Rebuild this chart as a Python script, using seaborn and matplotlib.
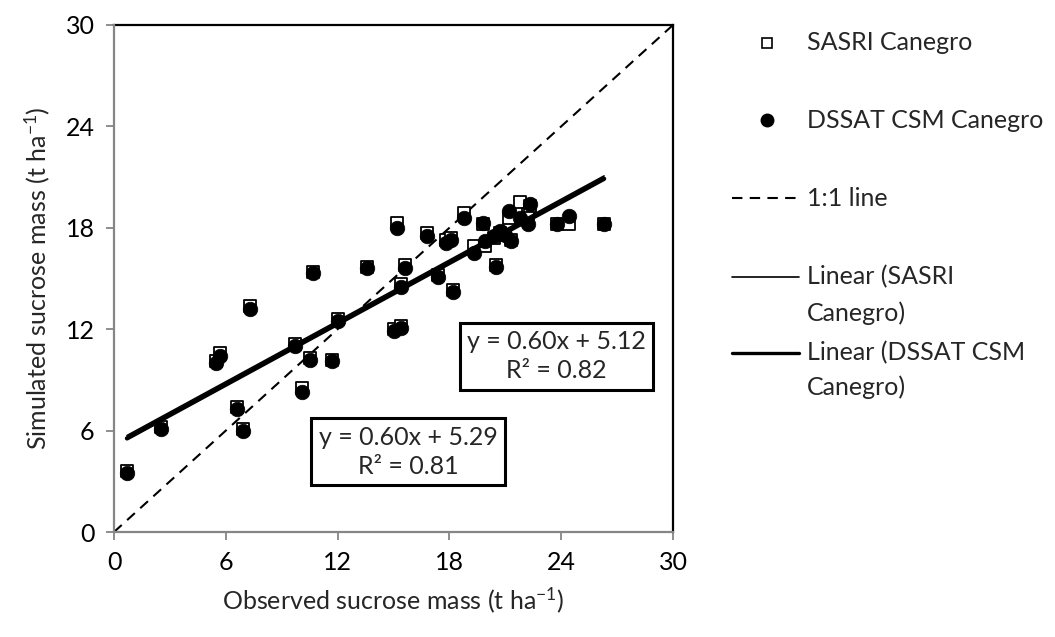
import numpy as np
import pandas as pd
import seaborn as sns
import matplotlib.pyplot as plt
from matplotlib.lines import Line2D

# Observed vs simulated sucrose mass (t/ha)
observed = [0.7, 2.5, 5.5, 5.7, 6.6, 6.9, 7.3, 9.7, 10.1, 10.5, 10.7, 11.7, 12.0,
            13.6, 15.0, 15.2, 15.4, 15.4, 15.6, 16.8, 17.4, 17.8, 18.1, 18.2, 18.8,
            19.3, 19.8, 19.9, 20.4, 20.5, 20.7, 21.0, 21.2, 21.3, 21.8, 22.2, 22.3,
            23.8, 24.4, 26.3]
sasri = [3.6, 6.2, 10.1, 10.6, 7.4, 6.1, 13.4, 11.1, 8.5, 10.3, 15.4, 10.2, 12.6,
         15.7, 12.0, 18.3, 14.7, 12.2, 15.8, 17.7, 15.2, 17.3, 17.4, 14.3, 18.9,
         16.9, 18.2, 16.9, 17.4, 15.8, 17.7, 17.6, 18.6, 17.3, 19.5, 18.8, 19.3,
         18.2, 18.2, 18.2]
dssat = [3.5, 6.1, 10.0, 10.4, 7.3, 6.0, 13.2, 11.0, 8.3, 10.2, 15.3, 10.1, 12.5,
         15.6, 11.9, 18.0, 14.5, 12.1, 15.6, 17.5, 15.1, 17.1, 17.3, 14.2, 18.6,
         16.5, 18.3, 17.2, 17.5, 15.7, 17.8, 17.6, 19.0, 17.2, 18.6, 18.2, 19.4,
         18.2, 18.7, 18.2]

# Linear trend fits
sasri_fit = {"slope": 0.60, "intercept": 5.29, "r2": 0.81}
dssat_fit = {"slope": 0.60, "intercept": 5.12, "r2": 0.82}

ticks = [0, 6, 12, 18, 24, 30]
series_labels = ["SASRI Canegro", "DSSAT CSM Canegro", "1:1 line",
                 "Linear (SASRI", "Canegro)", "Linear (DSSAT CSM", "Canegro)"]

FS = 18

sns.set_theme(style="white")
plt.rcParams["font.family"] = ["Lato", "DejaVu Sans"]
plt.rcParams["mathtext.fontset"] = "custom"
plt.rcParams["mathtext.rm"] = "Lato"
plt.rcParams["mathtext.it"] = "Lato"
plt.rcParams["mathtext.default"] = "regular"

W, H = 1055, 637
fig = plt.figure(figsize=(W / 100, H / 100), dpi=100)
ax = fig.add_axes([114 / W, 105 / H, 559 / W, 507 / H])

df = pd.DataFrame({"observed": observed, "sasri": sasri, "dssat": dssat})

sns.scatterplot(data=df, x="observed", y="sasri", marker="s", s=78,
                facecolor="white", edgecolor="black", linewidth=1.3,
                ax=ax, zorder=3)
sns.scatterplot(data=df, x="observed", y="dssat", marker="o", s=110,
                color="black", edgecolor="black", linewidth=0.5,
                ax=ax, zorder=4)

# 1:1 reference line
one = pd.DataFrame({"x": [0, 30], "y": [0, 30]})
sns.lineplot(data=one, x="x", y="y", color="black", linewidth=1.5,
             linestyle=(0, (5, 3.5)), ax=ax, zorder=2)

# Trend lines over the observed range
xr = np.array([min(observed), max(observed)])
sns.lineplot(x=xr, y=sasri_fit["slope"] * xr + sasri_fit["intercept"],
             color="black", linewidth=1.2, ax=ax, zorder=5)
sns.lineplot(x=xr, y=dssat_fit["slope"] * xr + dssat_fit["intercept"],
             color="black", linewidth=3.2, ax=ax, zorder=6)

ax.set_xlim(0, 30)
ax.set_ylim(0, 30)
ax.set_xticks(ticks)
ax.set_yticks(ticks)
ax.set_xticklabels([str(t) for t in ticks])
ax.set_yticklabels([str(t) for t in ticks])
ax.tick_params(axis="both", which="major", direction="out", length=6, width=1.3,
               color="#868686", labelsize=FS, labelcolor="black", pad=8,
               bottom=True, left=True)
ax.set_xlabel("Observed sucrose mass (t ha$^{-1}$)", fontsize=FS, labelpad=8)
ax.set_ylabel("Simulated sucrose mass (t ha$^{-1}$)", fontsize=FS, labelpad=10)

for side in ["top", "right"]:
    ax.spines[side].set_color("black")
    ax.spines[side].set_linewidth(1.6)
for side in ["left", "bottom"]:
    ax.spines[side].set_color("#868686")
    ax.spines[side].set_linewidth(1.6)
    ax.spines[side].set_zorder(7)

box = dict(boxstyle="square,pad=0.3", facecolor="white", edgecolor="black", linewidth=2.2)
ax.text(15.8, 4.75,
        f"y = {sasri_fit['slope']:.2f}x + {sasri_fit['intercept']:.2f}\nR² = {sasri_fit['r2']:.2f}",
        ha="center", va="center", fontsize=FS, bbox=box, zorder=8, linespacing=1.3)
ax.text(23.75, 10.4,
        f"y = {dssat_fit['slope']:.2f}x + {dssat_fit['intercept']:.2f}\nR² = {dssat_fit['r2']:.2f}",
        ha="center", va="center", fontsize=FS, bbox=box, zorder=8, linespacing=1.3)


# Legend drawn at the right of the plot (pixel positions in the figure)
def fx(px):
    return px / W


def fy(py):
    return 1 - py / H


tf = fig.transFigure
fig.add_artist(Line2D([fx(767)], [fy(43)], transform=tf, marker="s", markersize=7,
                      markerfacecolor="white", markeredgecolor="black",
                      markeredgewidth=1.2, linestyle="none"))
fig.add_artist(Line2D([fx(767)], [fy(120)], transform=tf, marker="o", markersize=9,
                      color="black", linestyle="none"))
fig.add_artist(Line2D([fx(732), fx(796)], [fy(198), fy(198)], transform=tf,
                      color="black", linewidth=1.5, linestyle=(0, (5, 3.5))))
fig.add_artist(Line2D([fx(732), fx(799)], [fy(277), fy(277)], transform=tf,
                      color="black", linewidth=1.2))
fig.add_artist(Line2D([fx(732), fx(799)], [fy(353), fy(353)], transform=tf,
                      color="black", linewidth=2.4))

label_y = [43, 120, 198, 277, 313, 353, 387]
for lab, py in zip(series_labels, label_y):
    fig.text(fx(807), fy(py), lab, fontsize=FS, ha="left", va="center")

fig.savefig("out.png", dpi=100)
